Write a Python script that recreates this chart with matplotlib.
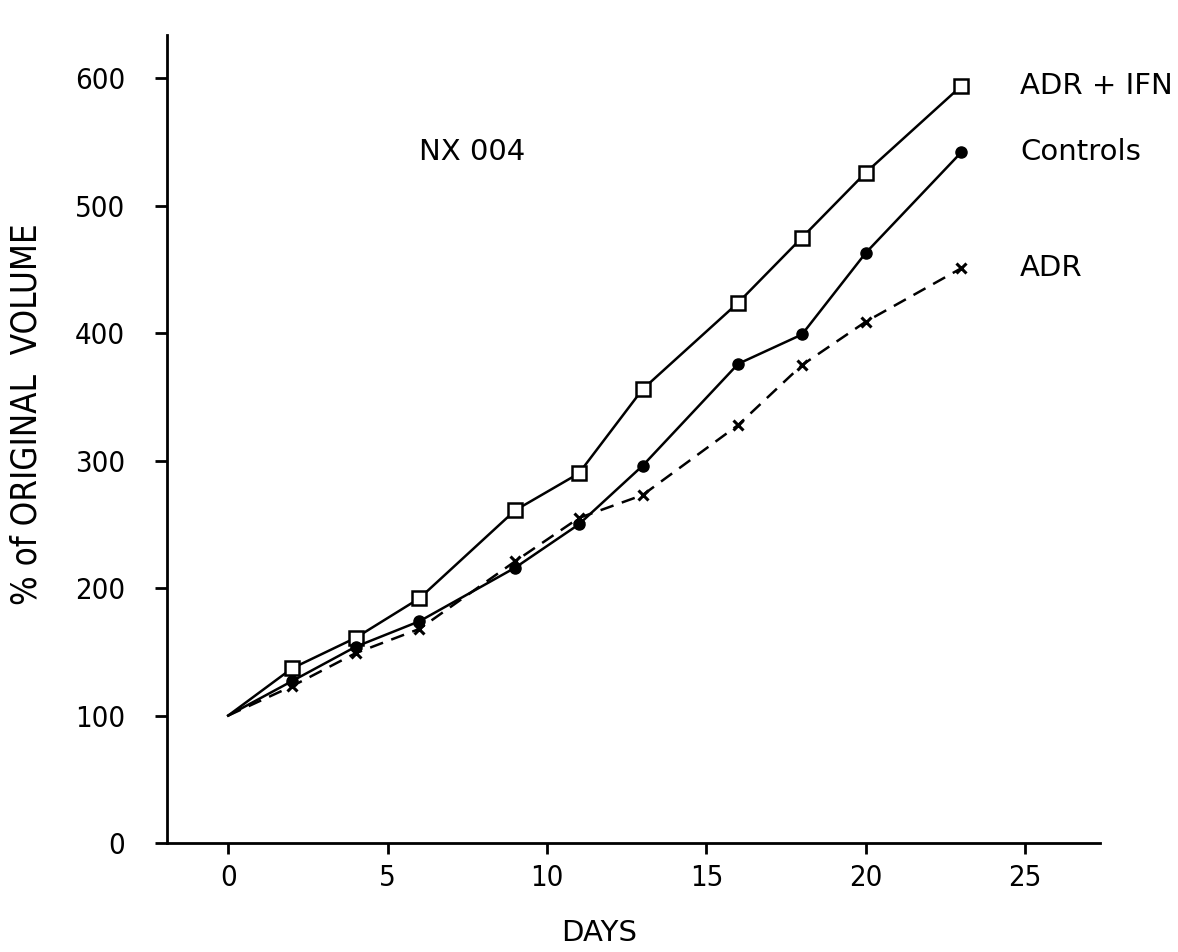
import matplotlib
matplotlib.use("Agg")
import matplotlib.pyplot as plt

days = [0, 2, 4, 6, 9, 11, 13, 16, 18, 20, 23]
adr_ifn = [100, 137, 161, 192, 261, 290, 356, 424, 475, 526, 594]
controls = [100, 127, 154, 174, 216, 250, 296, 376, 399, 463, 542]
adr = [100, 123, 149, 168, 221, 255, 273, 328, 375, 409, 451]

series_labels = ["ADR + IFN", "Controls", "ADR"]
x_ticks = [0, 5, 10, 15, 20, 25]
y_ticks = [0, 100, 200, 300, 400, 500, 600]

plt.rcParams['font.family'] = ["DejaVu Sans"]

fig = plt.figure(figsize=(11.78, 9.52), dpi=100)
ax = fig.add_axes([167/1178, 1 - 843/952, (1100 - 167)/1178, (843 - 35)/952])

mk = list(range(1, len(days)))
ax.plot(days, adr_ifn, color="black", lw=1.8, marker="s", ms=10, mfc="white",
        mec="black", mew=1.8, markevery=mk)
ax.plot(days, controls, color="black", lw=1.8, marker="o", ms=8,
        markevery=mk)
ax.plot(days, adr, color="black", lw=1.8, ls=(0, (5.5, 3.5)), marker="x", ms=7,
        mew=2.2, markevery=mk)

ax.set_xlim(-1.92, 27.35)
ax.set_ylim(0, 634)
ax.set_xticks(x_ticks)
ax.set_yticks(y_ticks)
ax.set_xticklabels([str(t) for t in x_ticks])
ax.set_yticklabels([str(t) for t in y_ticks])

for s in ["top", "right"]:
    ax.spines[s].set_visible(False)
for s in ["left", "bottom"]:
    ax.spines[s].set_linewidth(2.0)

ax.tick_params(axis="x", length=8, width=2.0, pad=7, labelsize=21)
ax.tick_params(axis="y", length=9, width=2.0, pad=21, labelsize=21)
for lab in ax.get_xticklabels() + ax.get_yticklabels():
    lab.set_fontstretch("condensed")

last_vals = [adr_ifn[-1], controls[-1], adr[-1]]
for lbl, v in zip(series_labels, last_vals):
    ax.text(24.84, v, lbl, fontsize=21, va="center", ha="left")

ax.text(6.0, 542, "NX 004", fontsize=21, va="center", ha="left")

fig.text(599/1178, 1 - 933/952, "DAYS", fontsize=21, ha="center", va="center")
fig.text(27/1178, 1 - 414/952, "% of ORIGINAL  VOLUME", fontsize=25,
         rotation=90, ha="center", va="center", fontstretch="condensed")

fig.savefig("out.png", dpi=100)
